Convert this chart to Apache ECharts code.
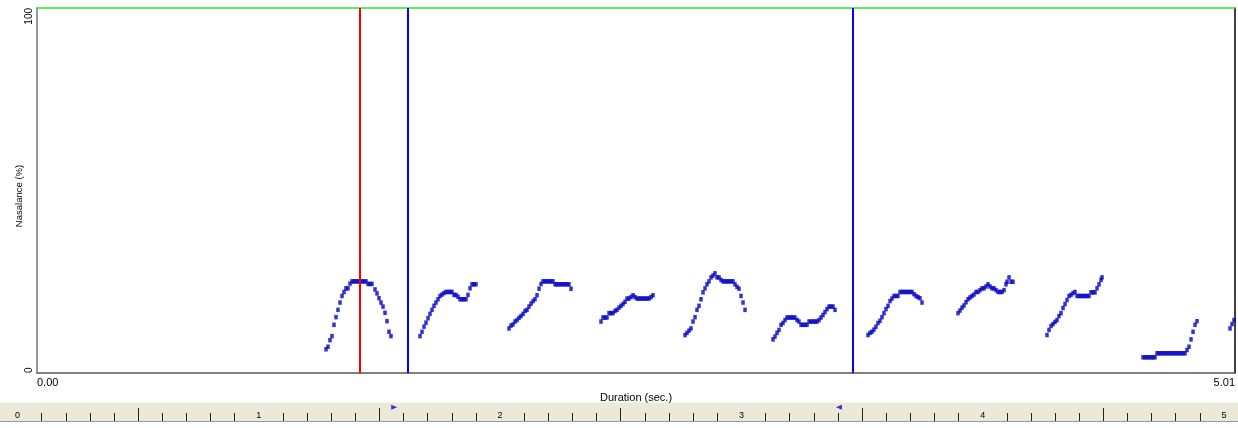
<!DOCTYPE html>
<html>
<head>
<meta charset="utf-8">
<script src="https://cdn.jsdelivr.net/npm/echarts@6/dist/echarts.min.js"></script>
<style>html,body{margin:0;padding:0;background:#fff;}#c{width:1238px;height:428px;}</style>
</head>
<body>
<div id="c"></div>
<script>
// ---- data (time in sec, nasalance in %) ----
const seg1 = [[1.2086,6.5],[1.2170,7.2],[1.2253,9.0],[1.2337,10.1],[1.2420,13.2],[1.2504,15.3],[1.2588,17.3],[1.2671,19.3],[1.2755,21.1],[1.2839,22.2],[1.2922,23.2],[1.3006,23.2],[1.3090,24.5],[1.3173,25.1],[1.3257,25.1],[1.3341,25.1],[1.3425,25.1],[1.3508,25.1],[1.3592,25.1],[1.3675,25.1],[1.3759,25.1],[1.3843,24.4],[1.3926,24.4],[1.4010,24.4],[1.4135,22.9],[1.4219,21.8],[1.4302,20.5],[1.4386,19.3],[1.4470,18.2],[1.4553,16.5],[1.4637,14.2],[1.4721,11.3],[1.4804,10.1]];
const seg2 = [[1.6017,10.1],[1.6101,11.3],[1.6184,12.7],[1.6268,13.8],[1.6352,15.0],[1.6435,16.2],[1.6519,17.3],[1.6603,18.4],[1.6686,19.3],[1.6770,20.2],[1.6854,21.1],[1.6937,21.5],[1.7021,21.9],[1.7105,22.2],[1.7188,22.2],[1.7272,22.2],[1.7356,22.2],[1.7439,21.4],[1.7523,21.4],[1.7607,20.9],[1.7690,20.2],[1.7774,20.2],[1.7858,20.2],[1.7941,20.2],[1.8025,21.4],[1.8109,23.2],[1.8192,24.3],[1.8276,24.3],[1.8360,24.3]];
const seg3 = [[1.9739,12.2],[1.9823,13.0],[1.9907,13.3],[1.9990,14.1],[2.0074,14.5],[2.0158,15.1],[2.0241,15.6],[2.0325,16.2],[2.0409,17.0],[2.0492,17.3],[2.0576,18.2],[2.0660,19.0],[2.0743,19.7],[2.0827,20.2],[2.0911,21.3],[2.0994,23.1],[2.1078,24.4],[2.1162,25.1],[2.1245,25.1],[2.1329,25.1],[2.1413,25.1],[2.1496,25.1],[2.1580,25.1],[2.1664,24.3],[2.1747,24.3],[2.1831,24.3],[2.1915,24.3],[2.1998,24.3],[2.2082,24.3],[2.2166,24.3],[2.2249,24.3],[2.2333,23.1]];
const seg4 = [[2.3586,14.1],[2.3670,15.2],[2.3754,15.2],[2.3837,15.2],[2.3921,16.4],[2.4004,16.4],[2.4088,16.4],[2.4172,17.0],[2.4255,17.3],[2.4339,17.9],[2.4423,18.4],[2.4506,18.9],[2.4590,19.5],[2.4674,20.4],[2.4757,20.4],[2.4841,20.8],[2.4925,21.3],[2.5008,20.8],[2.5092,20.4],[2.5176,20.4],[2.5259,20.4],[2.5343,20.4],[2.5427,20.4],[2.5510,20.4],[2.5594,20.4],[2.5678,20.8],[2.5761,21.3]];
const seg5 = [[2.7099,10.4],[2.7183,11.0],[2.7267,11.6],[2.7350,12.2],[2.7434,14.1],[2.7518,15.3],[2.7601,17.3],[2.7685,18.4],[2.7769,20.2],[2.7852,22.1],[2.7936,23.2],[2.8020,24.3],[2.8103,25.1],[2.8187,26.2],[2.8271,26.7],[2.8354,27.3],[2.8438,26.2],[2.8522,26.2],[2.8605,25.5],[2.8689,25.1],[2.8773,25.1],[2.8856,25.1],[2.8940,25.1],[2.9024,25.1],[2.9107,25.1],[2.9191,24.3],[2.9275,23.6],[2.9358,23.1],[2.9442,21.1],[2.9526,19.3],[2.9609,17.3]];
const seg6 = [[3.0780,9.2],[3.0863,10.0],[3.0947,11.0],[3.1031,11.8],[3.1114,13.2],[3.1198,13.7],[3.1282,14.5],[3.1365,15.2],[3.1449,15.2],[3.1533,15.2],[3.1616,15.2],[3.1700,15.2],[3.1784,14.5],[3.1867,14.1],[3.1951,13.2],[3.2035,13.2],[3.2118,13.2],[3.2202,13.2],[3.2286,14.1],[3.2369,14.1],[3.2453,14.1],[3.2537,14.1],[3.2620,14.1],[3.2704,14.5],[3.2788,15.2],[3.2871,15.9],[3.2955,16.7],[3.3039,17.5],[3.3122,18.2],[3.3206,18.2],[3.3290,18.2],[3.3373,17.3]];
const seg7 = [[3.4752,10.4],[3.4836,11.0],[3.4919,11.3],[3.5003,11.9],[3.5087,12.7],[3.5170,13.7],[3.5254,14.3],[3.5338,15.3],[3.5421,16.4],[3.5505,17.5],[3.5589,18.4],[3.5672,19.7],[3.5756,20.4],[3.5840,21.1],[3.5923,21.1],[3.6007,21.1],[3.6091,22.2],[3.6174,22.2],[3.6258,22.2],[3.6342,22.2],[3.6425,22.2],[3.6509,22.2],[3.6593,22.2],[3.6676,21.6],[3.6760,21.1],[3.6844,20.8],[3.6927,20.5],[3.7011,19.3]];
const seg8 = [[3.8516,16.4],[3.8600,17.1],[3.8684,17.9],[3.8767,18.5],[3.8851,19.4],[3.8935,20.2],[3.9018,20.7],[3.9102,21.1],[3.9186,21.5],[3.9269,22.2],[3.9353,22.2],[3.9437,22.7],[3.9520,23.2],[3.9604,23.2],[3.9688,23.7],[3.9771,24.3],[3.9855,23.7],[3.9939,23.2],[4.0022,23.2],[4.0106,22.7],[4.0190,22.2],[4.0273,22.2],[4.0357,22.2],[4.0441,22.7],[4.0524,24.3],[4.0566,25.0],[4.0650,26.2],[4.0734,25.0],[4.0817,25.0]];
const seg9 = [[4.2238,10.4],[4.2322,11.8],[4.2406,12.9],[4.2489,13.4],[4.2573,14.0],[4.2657,14.5],[4.2740,15.6],[4.2824,16.4],[4.2908,17.8],[4.2991,18.9],[4.3075,20.0],[4.3159,21.1],[4.3242,21.4],[4.3326,21.9],[4.3410,22.2],[4.3493,21.1],[4.3577,21.1],[4.3661,21.1],[4.3744,21.1],[4.3828,21.1],[4.3912,21.1],[4.3995,21.1],[4.4079,22.1],[4.4163,22.1],[4.4246,22.1],[4.4330,23.2],[4.4414,24.3],[4.4497,25.5],[4.4539,26.2]];
const seg10 = [[4.6253,4.3],[4.6337,4.3],[4.6420,4.3],[4.6504,4.3],[4.6588,4.3],[4.6671,4.3],[4.6755,4.3],[4.6839,5.4],[4.6922,5.4],[4.7006,5.4],[4.7090,5.4],[4.7173,5.4],[4.7257,5.4],[4.7341,5.4],[4.7424,5.4],[4.7508,5.4],[4.7592,5.4],[4.7675,5.4],[4.7759,5.4],[4.7843,5.4],[4.7926,5.4],[4.8010,5.4],[4.8094,6.3],[4.8177,7.2],[4.8261,9.2],[4.8345,11.3],[4.8428,13.2],[4.8512,14.2]];
const seg11 = [[4.9891,12.2],[4.9975,13.4],[5.0058,14.5]];

// cursors (sec)
const redCursor = 1.3478;
const blueCursors = [1.5486, 3.4125];

// axis ticks / labels
const xRange = [0, 5.01];
const yRange = [0, 100];
const rulerLabels = [0, 1, 2, 3, 4, 5];
const rulerMajorTicks = [0.5, 1.5, 2.5, 3.5, 4.5];
const rulerMinorTicks = [0.1,0.2,0.3,0.4,0.6,0.7,0.8,0.9,1.1,1.2,1.3,1.4,1.6,1.7,1.8,1.9,2.1,2.2,2.3,2.4,2.6,2.7,2.8,2.9,3.1,3.2,3.3,3.4,3.6,3.7,3.8,3.9,4.1,4.2,4.3,4.4,4.6,4.7,4.8,4.9];

const FONT = 'Liberation Sans, Arial, sans-serif';
const allPoints = [].concat(seg1, seg2, seg3, seg4, seg5, seg6, seg7, seg8, seg9, seg10, seg11);

const chart = echarts.init(document.getElementById('c'), null, {renderer: 'canvas'});
chart.setOption({
  animation: false,
  backgroundColor: '#ffffff',
  textStyle: {fontFamily: FONT},
  graphic: [
    {type: 'rect', z: -10, shape: {x: 0, y: 402, width: 1238, height: 19}, style: {fill: '#ece9d8'}},
    {type: 'line', z: -9, shape: {x1: 0, y1: 421.5, x2: 1238, y2: 421.5}, style: {stroke: '#8f9bb3', lineWidth: 1}},
    {type: 'line', z: -9, shape: {x1: 0, y1: 402.5, x2: 1238, y2: 402.5}, style: {stroke: '#f6f5ee', lineWidth: 1}}
  ],
  grid: [
    {left: 37, top: 8, right: 3, bottom: 55, outerBoundsMode: 'none', containLabel: false},
    {left: 17.5, right: 11.6, top: 402, bottom: 7, outerBoundsMode: 'none', containLabel: false}
  ],
  xAxis: [
    {
      gridIndex: 0, type: 'value', min: xRange[0], max: xRange[1], interval: 5.01, position: 'bottom',
      axisLine: {onZero: false, lineStyle: {color: '#555555', width: 1.5}},
      axisTick: {show: false}, splitLine: {show: false},
      axisLabel: {color: '#000', fontSize: 11, fontFamily: FONT, margin: 4,
        alignMinLabel: 'left', alignMaxLabel: 'right',
        formatter: v => v.toFixed(2)},
      name: 'Duration (sec.)', nameLocation: 'middle', nameGap: 19, nameMoveOverlap: false,
      nameTextStyle: {color: '#000', fontSize: 11, fontFamily: FONT}
    },
    {
      gridIndex: 0, type: 'value', min: xRange[0], max: xRange[1], position: 'top',
      axisLine: {onZero: false, lineStyle: {color: '#22ee22', width: 1.5}},
      axisTick: {show: false}, axisLabel: {show: false}, splitLine: {show: false}
    },
    {
      gridIndex: 1, type: 'value', min: xRange[0], max: xRange[1], position: 'bottom',
      axisLine: {show: false},
      axisTick: {show: true, inside: true, length: 13, customValues: rulerMajorTicks, lineStyle: {color: '#222', width: 1}},
      axisLabel: {show: true, inside: true, margin: 1, customValues: rulerLabels, color: '#000', fontSize: 9, fontFamily: FONT},
      splitLine: {show: false}
    },
    {
      gridIndex: 1, type: 'value', min: xRange[0], max: xRange[1], position: 'bottom',
      axisLine: {show: false},
      axisTick: {show: true, inside: true, length: 8, customValues: rulerMinorTicks, lineStyle: {color: '#222', width: 1}},
      axisLabel: {show: false}, splitLine: {show: false}
    }
  ],
  yAxis: [
    {
      gridIndex: 0, type: 'value', min: yRange[0], max: yRange[1], interval: 100, position: 'left',
      axisLine: {onZero: false, lineStyle: {color: '#777777', width: 1.5}},
      axisTick: {show: false}, splitLine: {show: false},
      axisLabel: {color: '#000', fontSize: 10, fontFamily: FONT, rotate: 90, margin: 3,
        alignMinLabel: 'left', alignMaxLabel: 'right'},
      name: 'Nasalance (%)', nameLocation: 'middle', nameGap: 13, nameRotate: 90, nameMoveOverlap: false,
      nameTextStyle: {color: '#000', fontSize: 9.5, fontFamily: FONT, padding: [0, 11, 0, 0]}
    },
    {
      gridIndex: 0, type: 'value', min: yRange[0], max: yRange[1], position: 'right',
      axisLine: {onZero: false, lineStyle: {color: '#000000', width: 1.5}},
      axisTick: {show: false}, axisLabel: {show: false}, splitLine: {show: false}
    },
    {gridIndex: 1, type: 'value', min: 0, max: 1, show: false}
  ],
  series: [
    {
      type: 'scatter', xAxisIndex: 0, yAxisIndex: 0,
      symbol: 'rect', symbolSize: [3.5, 4.5],
      itemStyle: {color: '#0000c4'},
      data: allPoints,
      silent: true,
      markLine: {
        silent: true, symbol: 'none', label: {show: false},
        lineStyle: {type: 'solid', width: 2},
        data: [
          {xAxis: redCursor, lineStyle: {color: '#ff0000', type: 'solid', width: 2}},
          {xAxis: blueCursors[0], lineStyle: {color: '#0000ff', type: 'solid', width: 2}},
          {xAxis: blueCursors[1], lineStyle: {color: '#0000ff', type: 'solid', width: 2}}
        ]
      }
    },
    {
      type: 'scatter', xAxisIndex: 2, yAxisIndex: 2, silent: true,
      symbol: 'triangle', symbolSize: [5, 6],
      itemStyle: {color: '#0000ff'},
      data: [
        {value: [blueCursors[0], 0.72], symbolRotate: -90, symbolOffset: [3, 0]},
        {value: [blueCursors[1], 0.72], symbolRotate: 90, symbolOffset: [-2, 0]}
      ]
    }
  ]
});
</script>
</body>
</html>
